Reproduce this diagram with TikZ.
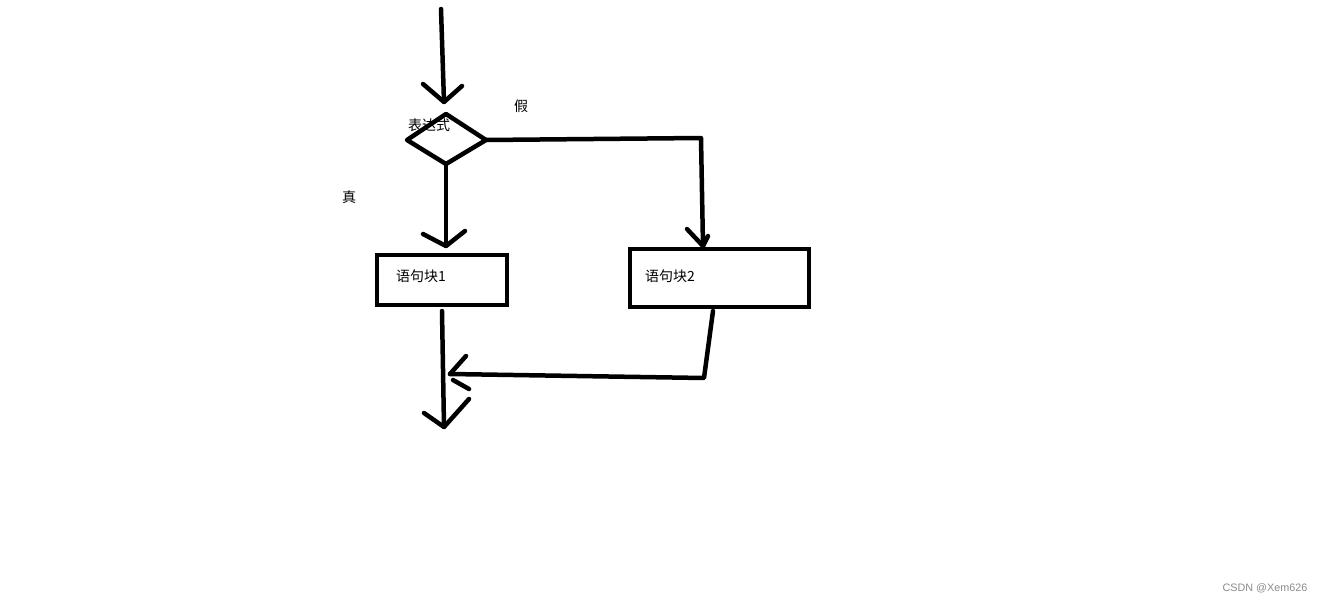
\documentclass[tikz,border=0pt]{standalone}
\usepackage{fontspec}
\newfontfamily\cjk{Noto Sans CJK SC}
\setsansfont{Liberation Sans}
\usetikzlibrary{shapes.geometric}
\begin{document}
\begin{tikzpicture}[x=1pt,y=-1pt,
  ln/.style={line width=4.5pt,line cap=round,line join=round},
  lbl/.style={font=\cjk\fontsize{14}{14}\selectfont,inner sep=0pt},
  boxst/.style={draw,line width=4.5pt,rectangle,inner sep=0pt}]
\useasboundingbox[fill=white] (0,0) rectangle (1323,602);
% nodes
\coordinate (top) at (441,9);
\coordinate (dtop) at (446,114);
\coordinate (dleft) at (407,140);
\coordinate (dright) at (486,140);
\coordinate (dbot) at (446,164);
\draw[ln] (dtop) -- (dright) -- (dbot) -- (dleft) -- cycle;
\node[lbl,anchor=west] (expr) at (408,125) {表达式};
\node[boxst,minimum width=130pt,minimum height=50pt] (b1) at (442,280) {};
\node[lbl,anchor=west] (t1) at (396,276) {语句块1};
\node[boxst,minimum width=179pt,minimum height=58pt] (b2) at (719.5,278) {};
\node[lbl,anchor=west] (t2) at (645,276) {语句块2};
\node[lbl] (jia) at (521,106) {假};
\node[lbl] (zhen) at (349,197) {真};
\node[font=\sffamily\fontsize{10.8}{10.8}\selectfont,text=black!45,inner sep=0pt] (wm) at (1265,588) {CSDN @Xem626};
% connectors
\coordinate (a1) at (444,102);
\draw[ln] (top) -- (a1);
\draw[ln] (423,84) -- (a1) -- (462,86);
\coordinate (a2) at (446,246);
\draw[ln] (dbot) -- (a2);
\draw[ln] (423,234) -- (a2) -- (465,231);
\coordinate (c1) at (701,138);
\coordinate (a3) at (703,246);
\draw[ln] (dright) -- (c1) -- (a3);
\draw[ln] (687,229) -- (a3) -- (708,236);
\coordinate (a4) at (444,427);
\draw[ln] (442,311) -- (a4);
\draw[ln] (424,413) -- (a4) -- (469,399);
\coordinate (c2) at (704,378);
\coordinate (a5) at (450,374);
\draw[ln] (713,311) -- (c2) -- (a5);
\draw[ln] (466,356) -- (a5);
\draw[ln] (453,380) -- (469,389);
\end{tikzpicture}
\end{document}
